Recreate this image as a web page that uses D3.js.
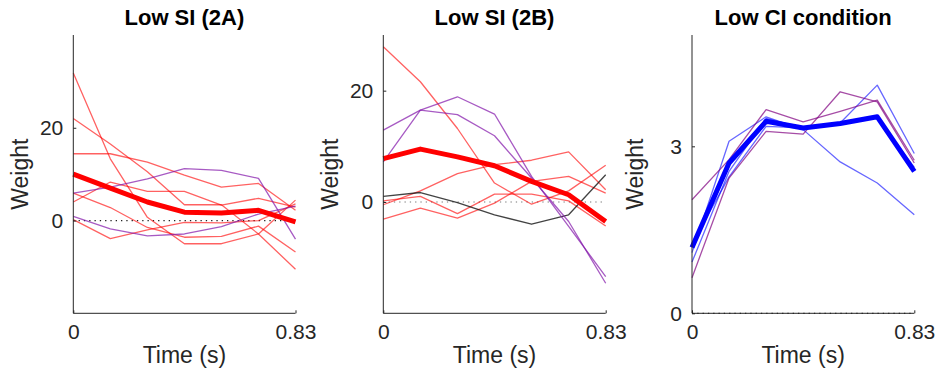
<!DOCTYPE html>
<html>
<head>
<meta charset="utf-8">
<script src="https://cdn.jsdelivr.net/npm/d3@7"></script>
<style>
  body { margin: 0; background: #fff; }
  svg { display: block; font-family: "Liberation Sans", Arial, sans-serif; }
</style>
</head>
<body>
<div id="chart"></div>
<script>
// time axis (7 samples over 0..0.83 s)
const times = [0, 0.1383, 0.2767, 0.415, 0.5533, 0.6917, 0.83];

// Low SI (2A)
const siA_red = [
  [31.8, 13.3, 0.7, -5.0, -5.0, -2.9, 4.4],
  [22.0, 16.5, 10.5, 3.4, 3.4, -2.9, -10.5],
  [14.4, 14.4, 12.6, 9.8, 7.2, 8.0, 2.2],
  [4.0, 8.3, 6.3, 6.3, 3.3, 4.8, 2.9],
  [5.9, 2.8, -1.5, -3.6, -3.4, -1.2, -6.8],
  [0.2, -3.9, -2.0, -0.4, -0.5, 0.0, 3.6]
];
const siA_purple = [
  [5.9, 7.2, 9.0, 11.2, 10.8, 9.1, -4.0],
  [0.9, -1.8, -3.3, -2.9, -1.3, 1.4, 3.1]
];
const siA_mean = [10.0, 7.0, 4.0, 1.8, 1.6, 2.2, -0.3];

// Low SI (2B)
const siB_red = [
  [27.9, 21.6, 13.2, 3.4, -0.4, 2.0, 6.6],
  [-0.5, 2.0, 5.1, 6.7, 7.5, 9.0, 2.2],
  [0.2, 1.0, -2.1, 1.4, 1.4, 0.2, -4.3],
  [-3.1, -1.1, -2.9, -0.2, 3.7, 4.6, 1.6]
];
const siB_purple = [
  [12.9, 16.5, 18.9, 15.8, 4.6, -4.4, -13.4],
  [7.2, 16.5, 15.7, 11.9, 4.3, -3.5, -14.6]
];
const siB_black = [[1.0, 1.7, -0.1, -2.3, -4.0, -2.3, 4.9]];
const siB_mean = [7.8, 9.5, 8.1, 6.5, 3.7, 1.3, -3.5];

// Low CI condition
const ci_blue = [
  [0.92, 2.55, 3.50, 3.33, 3.42, 4.10, 2.87],
  [1.09, 3.09, 3.53, 3.30, 2.72, 2.34, 1.77],
  [1.25, 2.45, 3.36, 3.33, 3.40, 3.52, 2.62]
];
const ci_purple = [
  [2.04, 2.76, 3.66, 3.44, 3.63, 3.83, 2.75],
  [0.64, 2.43, 3.27, 3.22, 3.98, 3.80, 2.70]
];
const ci_mean = [1.18, 2.70, 3.45, 3.33, 3.41, 3.53, 2.55];

const panels = [
  { title: 'Low SI (2A)', x0: 73.3, x1: 295.5, ylim: [-20, 40], yticks: [0, 20],
    groups: [
      { data: siA_red, color: 'rgba(255,0,0,0.62)', w: 1.3 },
      { data: siA_purple, color: 'rgba(130,20,170,0.7)', w: 1.3 },
      { data: [siA_mean], color: '#ff0000', w: 5 }
    ], zeroColor: '#222', labelX: 28 },
  { title: 'Low SI (2B)', x0: 383.3, x1: 605.7, ylim: [-20, 30], yticks: [0, 20],
    groups: [
      { data: siB_red, color: 'rgba(255,0,0,0.62)', w: 1.3 },
      { data: siB_black, color: 'rgba(20,20,20,0.8)', w: 1.3 },
      { data: siB_purple, color: 'rgba(130,20,170,0.7)', w: 1.3 },
      { data: [siB_mean], color: '#ff0000', w: 5 }
    ], zeroColor: '#777', labelX: 338 },
  { title: 'Low CI condition', x0: 692, x1: 914.3, ylim: [0, 5], yticks: [0, 3],
    groups: [
      { data: ci_blue, color: 'rgba(0,0,255,0.6)', w: 1.3 },
      { data: ci_purple, color: 'rgba(128,0,128,0.7)', w: 1.3 },
      { data: [ci_mean], color: '#0000ff', w: 5 }
    ], zeroColor: '#222', labelX: 643 }
];

const plotTop = 35, plotBottom = 313.3;
const axisColor = '#262626';

const svg = d3.select('#chart').append('svg')
  .attr('width', 935)
  .attr('height', 379);

panels.forEach(p => {
  const x = d3.scaleLinear().domain([0, 0.83]).range([p.x0, p.x1]);
  const y = d3.scaleLinear().domain(p.ylim).range([plotBottom, plotTop]);
  const g = svg.append('g');

  const line = d3.line()
    .x((d, i) => x(times[i]))
    .y(d => y(d));

  // zero reference
  g.append('line')
    .attr('x1', x(0)).attr('x2', x(0.83))
    .attr('y1', y(0)).attr('y2', y(0))
    .attr('stroke', p.zeroColor)
    .attr('stroke-width', 1.2)
    .attr('stroke-dasharray', '1.3,4');

  p.groups.forEach(grp => {
    g.append('g').selectAll('path')
      .data(grp.data)
      .join('path')
      .attr('d', line)
      .attr('fill', 'none')
      .attr('stroke', grp.color)
      .attr('stroke-width', grp.w)
      .attr('stroke-linejoin', 'round');
  });

  // y axis
  g.append('g')
    .attr('transform', `translate(${p.x0},0)`)
    .call(d3.axisLeft(y).tickValues(p.yticks).tickFormat(d3.format('d')).tickSize(-3).tickPadding(10))
    .call(a => a.select('.domain').attr('stroke', axisColor).attr('d', `M0,${plotTop}V${plotBottom}`))
    .call(a => a.selectAll('.tick line').attr('stroke', axisColor))
    .call(a => a.selectAll('.tick text').attr('fill', axisColor).style('font-size', '21px'));

  // x axis
  g.append('g')
    .attr('transform', `translate(0,${plotBottom})`)
    .call(d3.axisBottom(x).tickValues([0, 0.83]).tickFormat(d => d === 0 ? '0' : '0.83').tickSize(-3).tickPadding(11))
    .call(a => a.select('.domain').attr('stroke', axisColor).attr('d', `M${p.x0},0H${p.x1}`))
    .call(a => a.selectAll('.tick line').attr('stroke', axisColor))
    .call(a => a.selectAll('.tick text').attr('fill', axisColor).style('font-size', '21px'));

  // labels
  g.append('text')
    .attr('x', (p.x0 + p.x1) / 2).attr('y', 25)
    .attr('text-anchor', 'middle')
    .style('font-size', '22px').style('font-weight', 'bold')
    .attr('fill', '#000')
    .text(p.title);

  g.append('text')
    .attr('x', (p.x0 + p.x1) / 2).attr('y', 363)
    .attr('text-anchor', 'middle')
    .style('font-size', '23px')
    .attr('fill', axisColor)
    .text('Time (s)');

  g.append('text')
    .attr('transform', `translate(${p.labelX},${(plotTop + plotBottom) / 2}) rotate(-90)`)
    .attr('text-anchor', 'middle')
    .style('font-size', '23px')
    .attr('fill', axisColor)
    .text('Weight');
});
</script>
</body>
</html>
